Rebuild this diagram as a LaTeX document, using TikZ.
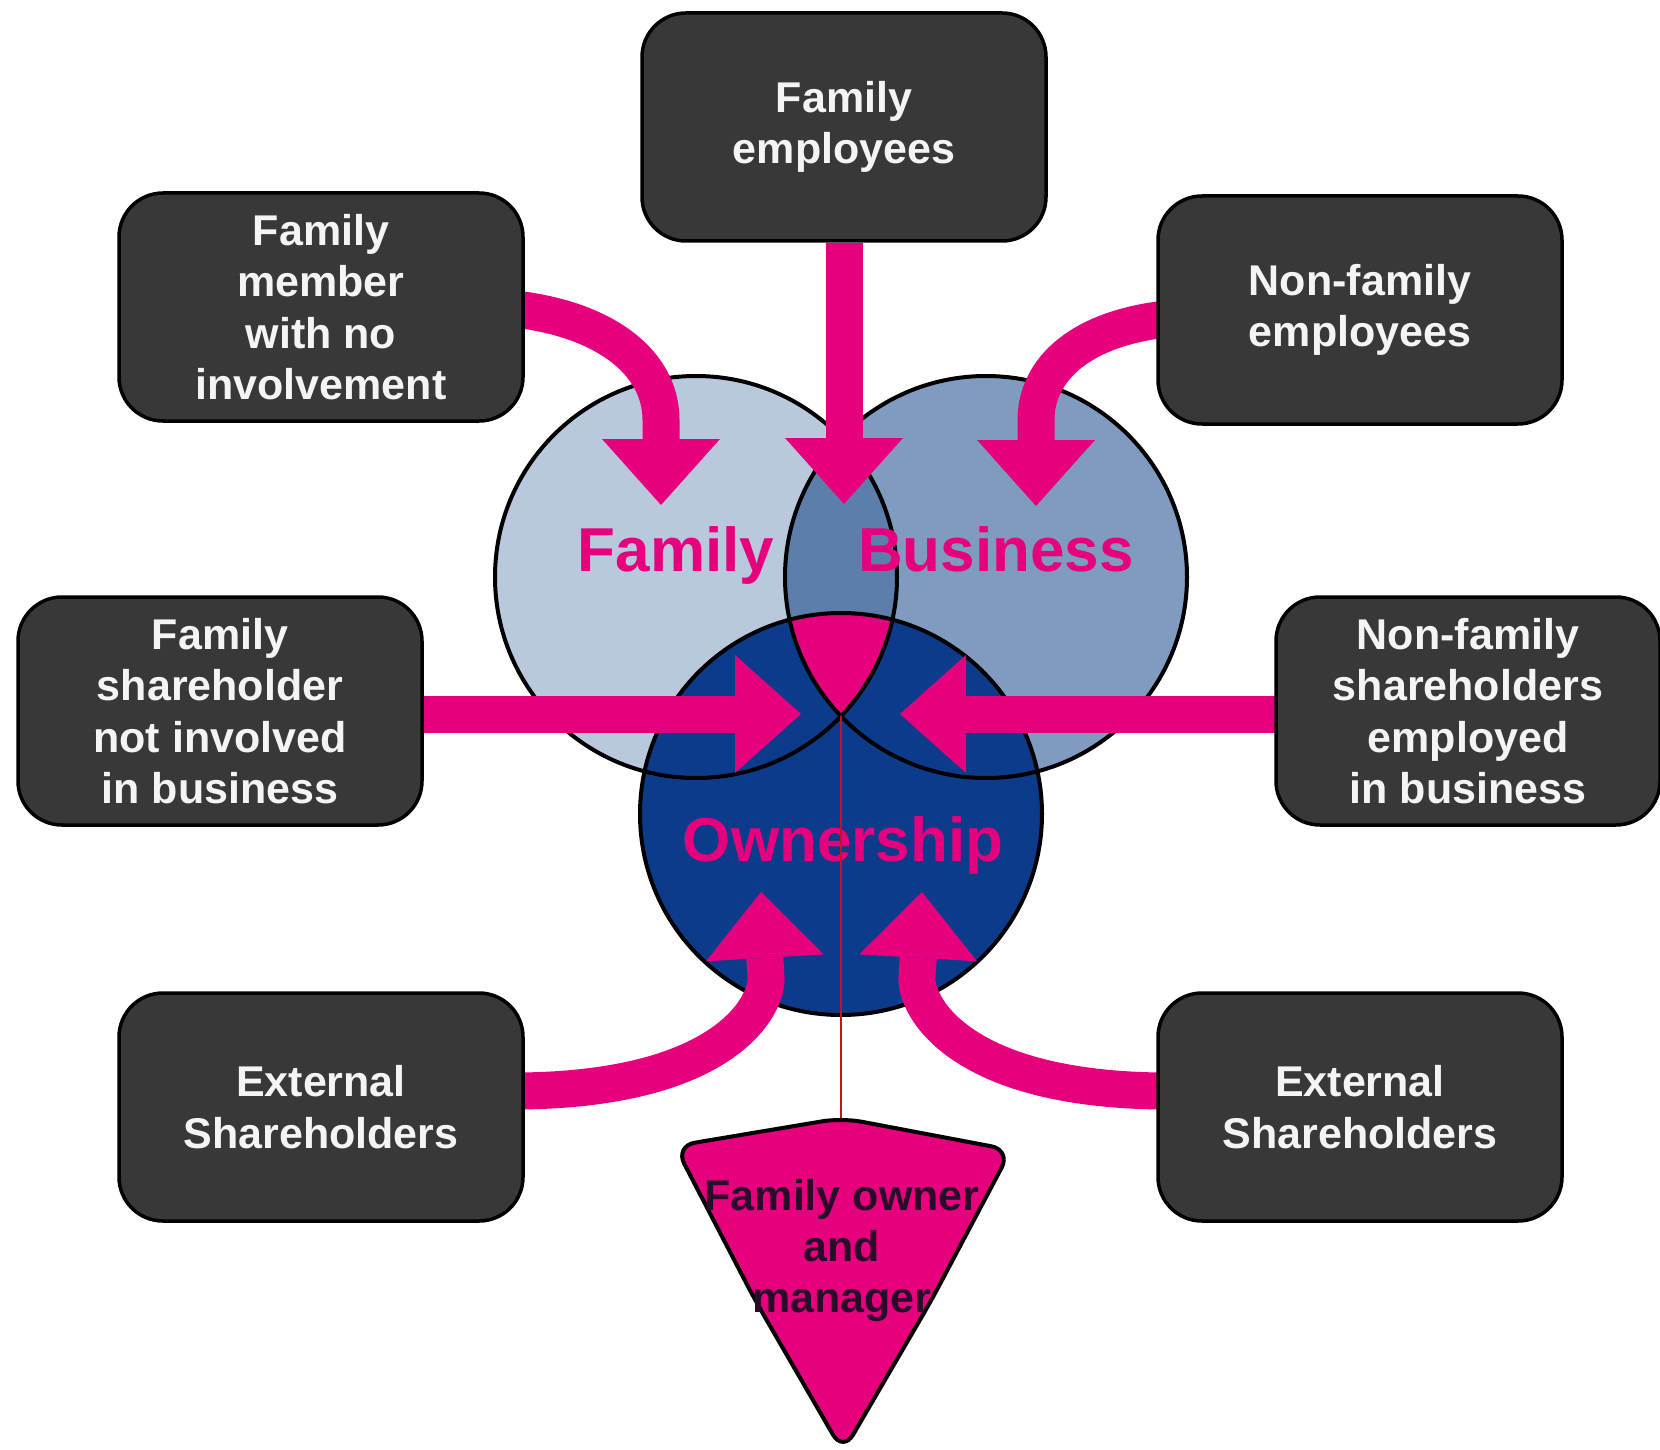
\documentclass[tikz,border=0pt]{standalone}
\usepackage{fontspec}
\setmainfont{Liberation Sans}
\usetikzlibrary{arrows.meta,backgrounds}
\definecolor{boxgray}{HTML}{383838}
\definecolor{boxtext}{HTML}{F4F4F4}
\definecolor{famfill}{HTML}{B9C8DC}
\definecolor{busfill}{HTML}{7F9BC0}
\definecolor{fbfill}{HTML}{5D7DAA}
\definecolor{ownfill}{HTML}{0C3B8B}
\definecolor{hotpink}{HTML}{E6007E}
\definecolor{linkred}{HTML}{C4121F}
\definecolor{picktext}{HTML}{2A0C2A}
\begin{document}
\begin{tikzpicture}[x=1pt,y=-1pt,
  rolebox/.style={draw=black, line width=3.5pt, fill=boxgray, rounded corners=44pt,
    minimum width=404pt, minimum height=228pt, text=boxtext, align=center,
    font=\fontsize{43}{51.5}\selectfont\bfseries, inner sep=0pt},
  flow/.style={draw=hotpink, line width=37pt, line cap=butt,
    -{Triangle[length=66pt,width=118pt,line width=0pt]}},
  biglabel/.style={text=hotpink, font=\fontsize{62}{70}\selectfont\bfseries,
    anchor=base, inner sep=0pt},
  ring/.style={draw=black, line width=4pt}
]
\useasboundingbox (0,0) rectangle (1660,1450);

% role boxes
\node[rolebox] (fe)  at (844,127)   {Family\\employees};
\node[rolebox] (fm)  at (321,307)   {Family\\member\\with no\\involvement};
\node[rolebox] (nfe) at (1360,310)  {Non-family\\employees};
\node[rolebox] (fs)  at (220,711)   {Family\\shareholder\\not involved\\in business};
\node[rolebox, minimum width=384pt] (nfs) at (1468,711) {Non-family\\shareholders\\employed\\in business};
\node[rolebox] (es1) at (321,1107)  {External\\Shareholders};
\node[rolebox] (es2) at (1360,1107) {External\\Shareholders};

% circle centres and arrow targets
\coordinate (cF) at (696,577);
\coordinate (cB) at (986,577);
\coordinate (cO) at (841,814);
\coordinate (fbint) at (841,716);
\coordinate (tipFE)  at (844,504);
\coordinate (tipFM)  at (661,505);
\coordinate (tipNFE) at (1036,506);
\coordinate (tipFS)  at (801,714);
\coordinate (tipNFS) at (900,714);
\coordinate (tipES1) at (761,892);
\coordinate (tipES2) at (922,892);
\coordinate (picktop) at (841,1122);

\begin{scope}[on background layer]
  % three overlapping circles
  \fill[famfill] (cF) circle[radius=201];
  \fill[busfill] (cB) circle[radius=201];
  \begin{scope}
    \clip (cF) circle[radius=201];
    \fill[fbfill] (cB) circle[radius=201];
  \end{scope}
  \fill[ownfill] (cO) circle[radius=201];
  \begin{scope}
    \clip (cF) circle[radius=201];
    \clip (cB) circle[radius=201];
    \fill[hotpink] (cO) circle[radius=201];
  \end{scope}
  \draw[ring] (cF) circle[radius=201] (cB) circle[radius=201] (cO) circle[radius=201];

  \node[biglabel] (lf) at (676,571) {Family};
  \node[biglabel] (lb) at (996,571) {Business};
  \node[biglabel] (lo) at (843,861) {Ownership};

  % arrows
  \draw[flow] (fe.south) -- (tipFE);
  \draw[flow] ([xshift=-20pt,yshift=-1pt]fm.east) .. controls (600,316) and (661,360) .. (661,420) -- (tipFM);
  \draw[flow] ([xshift=20pt,yshift=-8pt]nfe.west) .. controls (1080,326) and (1036,370) .. (1036,420) -- (tipNFE);
  \draw[flow] ([xshift=-20pt,yshift=-3pt]fs.east) -- (tipFS);
  \draw[flow] ([xshift=20pt,yshift=-3pt]nfs.west) -- (tipNFS);
  \draw[flow] ([xshift=-20pt,yshift=16pt]es1.east) .. controls (725,1093) and (768,1005) .. (766,977) -- (tipES1);
  \draw[flow] ([xshift=20pt,yshift=16pt]es2.west) .. controls (958,1093) and (915,1005) .. (917,977) -- (tipES2);
\end{scope}

% link from the centre down to the owner-manager pick
\draw[linkred, line width=2.5pt] (fbint) -- (picktop);

% the owner-manager pick
\filldraw[fill=hotpink, draw=black, line width=4pt, rounded corners=20pt]
  (843,1452) -- (755,1300) -- (675,1146) -- (842,1118) -- (1011,1150)
  -- (931,1301) -- cycle;
\node[text=picktext, align=center, inner sep=0pt,
  font=\fontsize{43}{51}\selectfont\bfseries] (fom) at (842,1250)
  {Family owner\\and\\manager};
\end{tikzpicture}
\end{document}
